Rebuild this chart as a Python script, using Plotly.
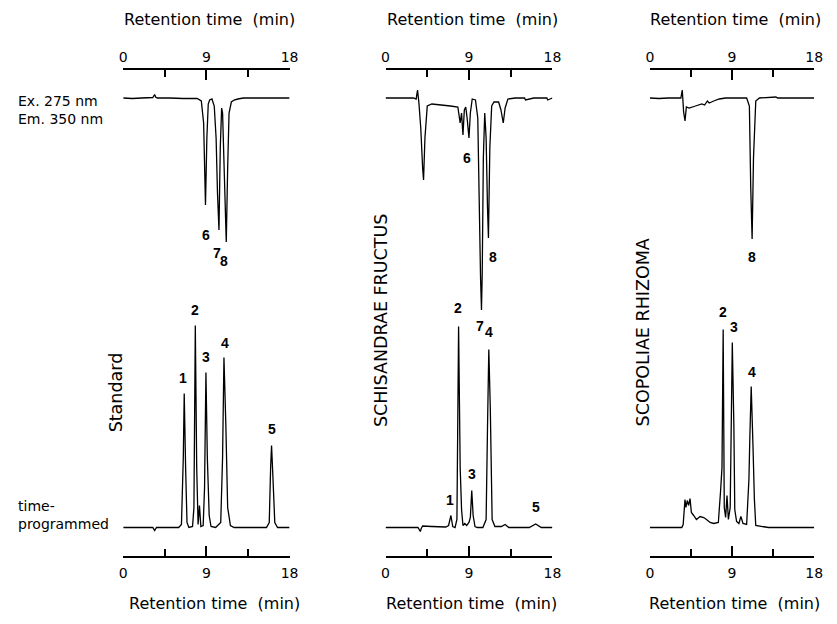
import plotly.graph_objects as go

# ---------------- data (retention time in min, detector response in relative units) -------------
# Column 1: Standard
std_fl_t = [0, 1.0, 2.0, 3.2, 3.4, 3.5, 3.7, 5.0, 6.5, 8.0, 8.45, 8.7, 8.9, 9.05, 9.2, 9.35, 9.6, 9.85,
            10.05, 10.2, 10.36, 10.5, 10.65, 10.75, 10.95, 11.15, 11.3, 11.45, 11.7, 12.0, 12.4, 13.0, 15.0, 18.0]
std_fl_s = [0, -0.5, 0, 0.5, 3.5, 1, 0, 0, -0.5, -0.5, -3, -25, -107, -40, -6, -2, -1, -8,
            -40, -95, -132, -50, -10, -15, -80, -144, -70, -15, -4, -2, -1, 0, 0, 0]
std_uv_t = [0, 3.2, 3.4, 3.6, 6.0, 6.3, 6.5, 6.6, 6.75, 6.9, 7.1, 7.5, 7.65, 7.8, 7.95, 8.1, 8.25, 8.4,
            8.65, 8.8, 8.95, 9.1, 9.3, 9.5, 10.0, 10.55, 10.75, 10.9, 11.1, 11.3, 11.6, 12.0, 15.5, 15.8,
            15.95, 16.05, 16.2, 16.4, 16.7, 18]
std_uv_s = [0, 0, -3, 0, 0, 3, 70, 134, 60, 5, 0, 1, 20, 202, 60, 3, 22, 1,
            2, 40, 155, 70, 12, 1, 0, 5, 70, 170, 104, 20, 2, 0, 0, 5,
            60, 82, 50, 5, 0, 0]

# Column 2: SCHISANDRAE FRUCTUS
sch_fl_t = [0, 2.0, 3.0, 3.3, 3.45, 3.6, 3.8, 4.0, 4.1, 4.25, 4.5, 5.0, 6.0, 7.0, 7.8, 8.05, 8.2, 8.35,
            8.5, 8.65, 8.8, 9.0, 9.15, 9.35, 9.7, 9.95, 10.1, 10.25, 10.35, 10.43, 10.55, 10.7, 10.85,
            11.0, 11.1, 11.25, 11.45, 11.7, 12.2, 12.45, 12.7, 12.9, 13.2, 14.0, 15.0, 15.1, 16.0,
            17.4, 17.5, 18]
sch_fl_s = [0, 0, 0, -1, 8, -5, -30, -70, -82, -40, -8, -6, -7, -8, -9, -25, -15, -37,
            -12, -9, -20, -40, -15, -1, -2, -20, -100, -180, -212, -175, -60, -15, -40,
            -110, -140, -50, -8, -4, -4, -12, -25, -10, -1, 0, 0, -2, 0,
            0, -2, 0]
sch_uv_t = [0, 3.5, 3.75, 3.85, 4.0, 5.0, 6.5, 6.8, 7.05, 7.25, 7.5, 7.7, 7.88, 8.05, 8.2, 8.35, 8.55,
            8.75, 9.0, 9.15, 9.3, 9.45, 9.65, 9.9, 10.5, 10.85, 11.0, 11.14, 11.3, 11.5, 11.8, 12.5,
            12.9, 13.3, 15.5, 16.2, 16.8, 18]
sch_uv_s = [0, 0, -4, -1, 1.5, 1, 0.5, 2, 12, 1, 0, 8, 201, 60, 18, 2, 4,
            2, 5, 10, 37, 12, 1, 0, 0, 8, 100, 178, 120, 8, 1, 1,
            3, 0, 0, 3.5, 0, 0]

# Column 3: SCOPOLIAE RHIZOMA
sco_fl_t = [0, 1.0, 2.0, 3.4, 3.55, 3.7, 3.85, 4.0, 4.3, 5.0, 5.7, 6.0, 6.3, 6.5, 7.0, 7.6, 8.3, 10.6,
            10.9, 11.05, 11.2, 11.35, 11.6, 12.0, 13.8, 14.0, 15.5, 18]
sco_fl_s = [0, -0.5, 0, 0, 8, -14, -23, -9, -10, -8, -6, -7, -3, -5, -3, -1, 0, 0,
            -8, -90, -141, -60, -3, 0, 1, 0, 0, 0]
sco_uv_t = [0, 3.5, 3.65, 3.85, 3.95, 4.1, 4.25, 4.4, 4.55, 4.8, 5.1, 5.5, 5.9, 6.2, 6.6, 7.0, 7.5,
            7.75, 7.9, 8.03, 8.15, 8.3, 8.45, 8.6, 8.8, 9.03, 9.2, 9.3, 9.5, 9.75, 9.97, 10.2, 10.6,
            10.85, 10.95, 11.1, 11.3, 11.45, 11.6, 13.0, 18]
sco_uv_s = [0, 0, 3, 28, 20, 27, 22, 29, 15, 12, 8, 11, 10, 8, 5, 4, 5,
            37, 60, 198, 20, 10, 32, 8, 20, 185, 102, 18, 6, 4, 11, 4, 3,
            48, 90, 141, 80, 28, 2, 0, 0]

# peak labels: (text, time, response)
std_fl_labels = [("6", 8.95, -137), ("7", 10.1, -155), ("8", 10.9, -163)]
std_uv_labels = [("1", 6.5, 150), ("2", 7.8, 218), ("3", 8.94, 171), ("4", 11.0, 185), ("5", 16.05, 99)]
sch_fl_labels = [("6", 8.76, -60), ("8", 11.6, -159), ("7", 10.24, -228)]
sch_uv_labels = [("2", 7.8, 220), ("4", 11.16, 196), ("1", 6.92, 28), ("3", 9.3, 54), ("5", 16.2, 21)]
sco_fl_labels = [("8", 11.2, -159)]
sco_uv_labels = [("2", 8.03, 216), ("3", 9.2, 201), ("4", 11.2, 156)]

sample_names = ["Standard", "SCHISANDRAE FRUCTUS", "SCOPOLIAE RHIZOMA"]
tick_vals = [0, 9, 18]
tick_text = ["0", "9", "18"]
axis_title = "Retention time\u00a0\u00a0(min)"
detector_note = "Ex. 275 nm<br>Em. 350 nm"
program_note = "time-<br>programmed"

# ---------------- layout geometry ----------------
OFF = 8                       # page body margin of the html page
W, H = 837 - OFF, 624 - OFF
def fx(p):
    return (p - OFF) / W
def fy(p):
    return 1 - (p - OFF) / H

col_px = [(121, 290), (387.5, 557), (656, 823)]
top_px = (70, 335)      # top-panel vertical extent (px)
bot_px = (285, 556)     # bottom-panel vertical extent (px)
top_range = [-237, 28]
bot_range = [-28.5, 242.5]

TXT = "DejaVu Sans"
NUM = "Liberation Sans, Arial"

fig = go.Figure()

panels = [
    (std_fl_t, std_fl_s, std_fl_labels, 0, "top"),
    (sch_fl_t, sch_fl_s, sch_fl_labels, 1, "top"),
    (sco_fl_t, sco_fl_s, sco_fl_labels, 2, "top"),
    (std_uv_t, std_uv_s, std_uv_labels, 0, "bottom"),
    (sch_uv_t, sch_uv_s, sch_uv_labels, 1, "bottom"),
    (sco_uv_t, sco_uv_s, sco_uv_labels, 2, "bottom"),
]

annotations = []
layout_axes = {}
for k, (t, s, labels, col, side) in enumerate(panels):
    idx = k + 1
    xn = "x" if idx == 1 else f"x{idx}"
    yn = "y" if idx == 1 else f"y{idx}"
    fig.add_trace(go.Scatter(x=t, y=s, mode="lines", xaxis=xn, yaxis=yn,
                             line=dict(color="black", width=1.3, simplify=False),
                             hoverinfo="skip"))
    xd = [fx(col_px[col][0]), fx(col_px[col][1])]
    if side == "top":
        yd = [fy(top_px[1]), fy(top_px[0])]
        yr = top_range
        standoff = 0
    else:
        yd = [fy(bot_px[1]), fy(bot_px[0])]
        yr = bot_range
        standoff = 3
    layout_axes[f"xaxis{'' if idx == 1 else idx}"] = dict(
        domain=xd, range=[0, 18], anchor=yn, side=side,
        tickmode="array", tickvals=tick_vals, ticktext=tick_text,
        ticks="inside", ticklen=10, tickwidth=1.5, tickcolor="black",
        minor=dict(dtick=4.5, tick0=0, ticks="inside", ticklen=7, tickwidth=1.5,
                   tickcolor="black", showgrid=False),
        showline=True, linewidth=2, linecolor="black",
        showgrid=False, zeroline=False, ticklabelstandoff=standoff,
        tickfont=dict(family=TXT, size=14, color="black"), fixedrange=True)
    layout_axes[f"yaxis{'' if idx == 1 else idx}"] = dict(
        domain=yd, range=yr, anchor=xn, visible=False, fixedrange=True)
    for (txt, lt, ls) in labels:
        annotations.append(dict(x=lt, y=ls, xref=xn, yref=yn, text=f"<b>{txt}</b>",
                                showarrow=False, xanchor="center", yanchor="middle",
                                font=dict(family=NUM, size=14, color="black")))

# axis titles
top_title_cx = [208.5, 476, 743.5]
bot_title_cx = [214, 475, 742.5]
for cx in top_title_cx:
    annotations.append(dict(x=fx(cx), y=fy(20), xref="paper", yref="paper", text=axis_title,
                            showarrow=False, xanchor="center", yanchor="middle",
                            font=dict(family=TXT, size=16, color="black")))
for cx in bot_title_cx:
    annotations.append(dict(x=fx(cx), y=fy(603), xref="paper", yref="paper", text=axis_title,
                            showarrow=False, xanchor="center", yanchor="middle",
                            font=dict(family=TXT, size=16, color="black")))

# sample names (rotated)
name_pos = [(113.5, 392.5), (383, 320), (649, 332.5)]
for name, (cx, cy) in zip(sample_names, name_pos):
    annotations.append(dict(x=fx(cx), y=fy(cy), xref="paper", yref="paper", text=name,
                            showarrow=False, textangle=-90, xanchor="center", yanchor="middle",
                            font=dict(family=TXT, size=17.5, color="black")))

# detector / program notes
for txt, cy in [(detector_note, 109.5), (program_note, 514.5)]:
    annotations.append(dict(x=fx(12), y=fy(cy), xref="paper", yref="paper", text=txt,
                            showarrow=False, xanchor="left", yanchor="middle", align="left",
                            font=dict(family=TXT, size=14, color="black")))

fig.update_layout(
    width=W, height=H, margin=dict(l=0, r=0, t=0, b=0),
    paper_bgcolor="white", plot_bgcolor="rgba(0,0,0,0)", showlegend=False,
    annotations=annotations, **layout_axes)

fig.write_html("out.html")
